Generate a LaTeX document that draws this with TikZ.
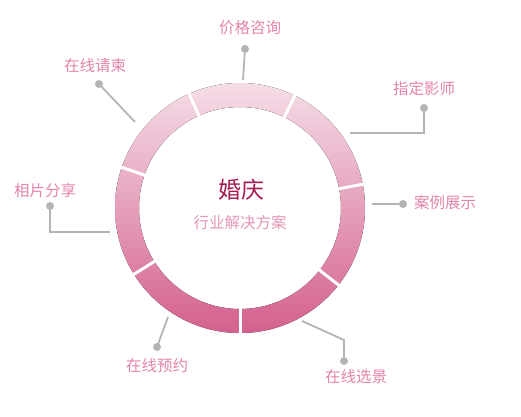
\documentclass[tikz,border=0pt]{standalone}
\usepackage{fontspec}
\usetikzlibrary{calc}
\newfontfamily\cjk{Noto Sans CJK SC}
\definecolor{labelpink}{RGB}{228,132,170}
\definecolor{subpink}{RGB}{230,150,184}
\definecolor{titlered}{RGB}{163,28,84}
\definecolor{linegray}{RGB}{180,180,180}
\definecolor{ringtop}{RGB}{245,222,232}
\definecolor{ringbot}{RGB}{212,96,142}
\begin{document}
\begin{tikzpicture}[x=1pt,y=-1pt,
  lbl/.style={font=\cjk\fontsize{15.5}{18}\selectfont, text=labelpink, inner sep=0pt},
  dotnode/.style={circle, fill=linegray, inner sep=0pt, minimum size=8pt},
  conn/.style={draw=linegray, line width=1.8pt},
  gapline/.style={draw=white, line width=3pt}]
\useasboundingbox (0,0) rectangle (521,416);
\coordinate (c) at (240,208);
% ring
\fill[top color=ringtop, bottom color=ringbot, even odd rule]
  (c) circle[radius=125pt] (c) circle[radius=101pt];
\foreach \a in {114,64,11,-38,-90,-148,161}
  \draw[gapline] ($(c)+(\a:99pt)$) -- ($(c)+(\a:127pt)$);
% centre
\node[font=\cjk\fontsize{23}{26}\selectfont, text=titlered, inner sep=0pt] (title) at (241,190) {婚庆};
\node[font=\cjk\fontsize{15.5}{18}\selectfont, text=subpink, inner sep=0pt] (sub) at (240,223) {行业解决方案};
% labels
\node[lbl] (l1) at (250,28) {价格咨询};
\node[lbl] (l2) at (95,66) {在线请柬};
\node[lbl] (l3) at (424,89) {指定影师};
\node[lbl] (l4) at (445,203) {案例展示};
\node[lbl] (l5) at (356,377) {在线选景};
\node[lbl] (l6) at (157,366) {在线预约};
\node[lbl] (l7) at (45,191) {相片分享};
% dots
\node[dotnode] (d1) at (245,49) {};
\node[dotnode] (d2) at (99,84) {};
\node[dotnode] (d3) at (424,108) {};
\node[dotnode] (d4) at (403,204) {};
\node[dotnode] (d5) at (344,361) {};
\node[dotnode] (d6) at (157,347) {};
\node[dotnode] (d7) at (50,206) {};
% ring ends
\coordinate (r1) at (243,80);
\coordinate (r2) at (135,122);
\coordinate (r3) at (350,133);
\coordinate (r4) at (372,204);
\coordinate (r5) at (302,321);
\coordinate (r5b) at (344,340);
\coordinate (r6) at (168,317);
\coordinate (r7) at (110,232);
% connectors
\draw[conn] (r1) -- (d1.center);
\draw[conn] (r2) -- (d2.center);
\draw[conn] (r3) -| (d3.center);
\draw[conn] (r4) -- (d4.center);
\draw[conn] (r5) -- (r5b) -- (d5.center);
\draw[conn] (r6) -- (d6.center);
\draw[conn] (r7) -| (d7.center);
\end{tikzpicture}
\end{document}
